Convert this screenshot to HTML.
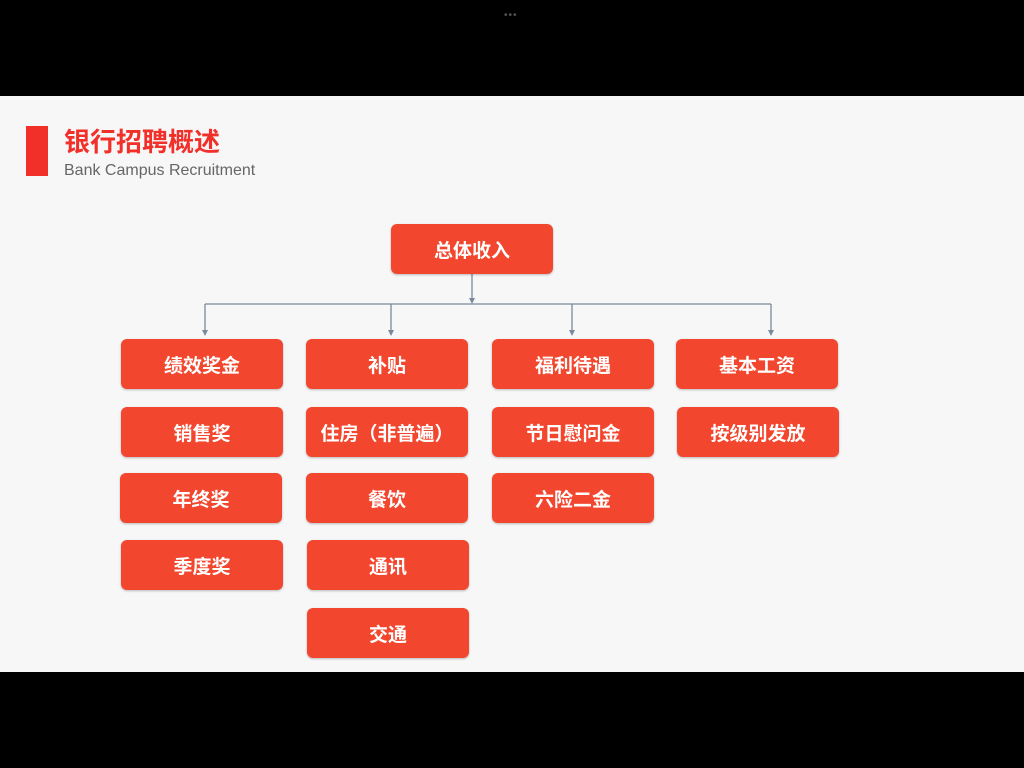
<!DOCTYPE html>
<html><head><meta charset="utf-8"><style>
body{margin:0;width:1024px;height:768px;background:#000;position:relative;overflow:hidden;font-family:"Liberation Sans","Noto Sans CJK SC",sans-serif}
.slide{position:absolute;left:0;top:96px;width:1024px;height:576px;background:#f7f7f7}
.b{position:absolute;width:162px;height:50px;background:#f2472e;border-radius:6px;color:#fff;font-weight:bold;font-size:19px;display:flex;align-items:center;justify-content:center;box-shadow:0 1px 2px rgba(0,0,0,.25)}
</style></head><body>
<div style="position:absolute;left:504px;top:10px;color:#555;font-size:10px;letter-spacing:1px">•••</div>
<div class="slide"></div>
<div style="position:absolute;left:26px;top:126px;width:22px;height:50px;background:#f2302a"></div>
<div style="position:absolute;left:64px;top:122px;font-size:26px;font-weight:bold;color:#f2302a">银行招聘概述</div>
<div style="position:absolute;left:64px;top:162px;font-size:16px;color:#666">Bank Campus Recruitment</div>
<svg style="position:absolute;left:0;top:0" width="1024" height="768">
<g stroke="#7a8a9a" stroke-width="1.3" fill="none">
<line x1="472" y1="274" x2="472" y2="302"/>
<line x1="205" y1="304" x2="771" y2="304"/>
<line x1="205" y1="304" x2="205" y2="332"/>
<line x1="391" y1="304" x2="391" y2="332"/>
<line x1="572" y1="304" x2="572" y2="332"/>
<line x1="771" y1="304" x2="771" y2="332"/>
</g>
<g fill="#7a8a9a">
<polygon points="469,298 475,298 472,304"/>
<polygon points="202,330 208,330 205,336"/>
<polygon points="388,330 394,330 391,336"/>
<polygon points="569,330 575,330 572,336"/>
<polygon points="768,330 774,330 771,336"/>
</g></svg>
<div class="b" style="left:391px;top:224px">总体收入</div>
<div class="b" style="left:121px;top:339px">绩效奖金</div>
<div class="b" style="left:306px;top:339px">补贴</div>
<div class="b" style="left:492px;top:339px">福利待遇</div>
<div class="b" style="left:676px;top:339px">基本工资</div>
<div class="b" style="left:121px;top:407px">销售奖</div>
<div class="b" style="left:306px;top:407px">住房（非普遍）</div>
<div class="b" style="left:492px;top:407px">节日慰问金</div>
<div class="b" style="left:677px;top:407px">按级别发放</div>
<div class="b" style="left:120px;top:473px">年终奖</div>
<div class="b" style="left:306px;top:473px">餐饮</div>
<div class="b" style="left:492px;top:473px">六险二金</div>
<div class="b" style="left:121px;top:540px">季度奖</div>
<div class="b" style="left:307px;top:540px">通讯</div>
<div class="b" style="left:307px;top:608px">交通</div>
</body></html>
